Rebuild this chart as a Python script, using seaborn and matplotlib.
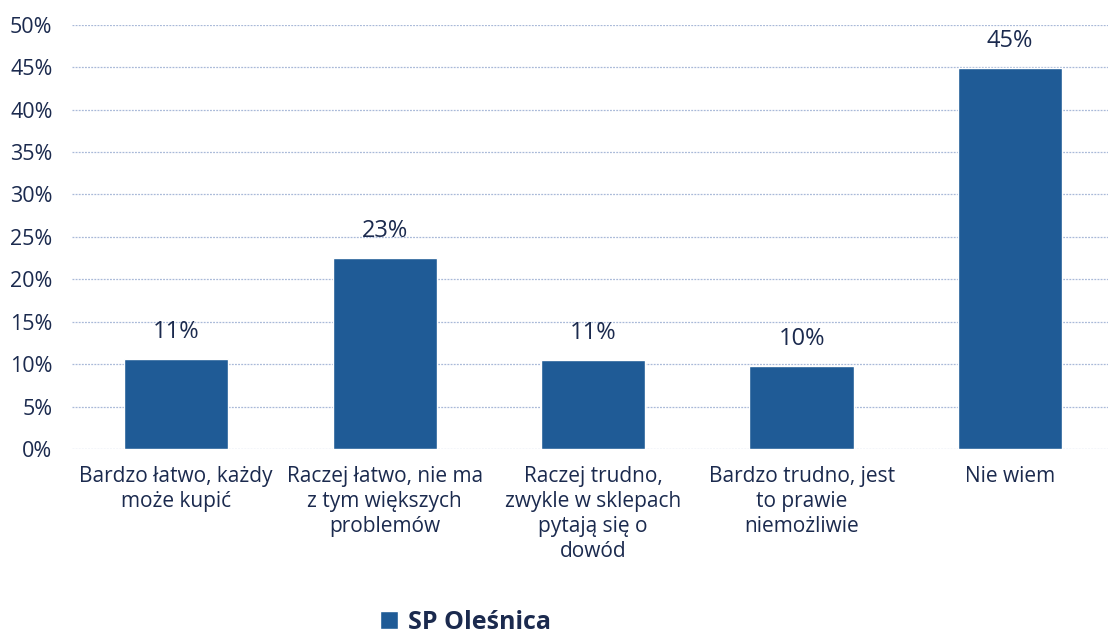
import matplotlib
matplotlib.use("Agg")
import matplotlib.pyplot as plt
import seaborn as sns
import pandas as pd
from matplotlib.patches import Patch

categories = [
    "Bardzo łatwo, każdy\nmoże kupić",
    "Raczej łatwo, nie ma\nz tym większych\nproblemów",
    "Raczej trudno,\nzwykle w sklepach\npytają się o\ndowód",
    "Bardzo trudno, jest\nto prawie\nniemożliwie",
    "Nie wiem",
]
values = [10.6, 22.5, 10.5, 9.8, 44.9]
labels = ["11%", "23%", "11%", "10%", "45%"]
yticks = [0, 5, 10, 15, 20, 25, 30, 35, 40, 45, 50]
series_name = "SP Oleśnica"

sns.set_style("white")
plt.rcParams['font.family'] = ['Open Sans', 'DejaVu Sans']

text_color = "#1b2a4e"
bar_color = "#1f5b96"

fig = plt.figure(figsize=(11.08, 6.36), dpi=100)
ax = fig.add_axes([0.065, 0.294, 0.935, 0.667])

df = pd.DataFrame({"cat": categories, "val": values})
sns.barplot(data=df, x="cat", y="val", color=bar_color, width=0.5, ax=ax,
            saturation=1, zorder=3)

ax.set_ylim(0, 50)
ax.set_xlim(-0.5, 4.47)
ax.set_yticks(yticks)
ax.set_yticklabels([f"{t}%" for t in yticks], fontsize=15.5, color=text_color)
ax.tick_params(axis='x', labelsize=15, colors=text_color, length=0, pad=12)
ax.tick_params(axis='y', length=0, pad=14)
for t in ax.get_xticklabels():
    t.set_linespacing(1.25)
ax.yaxis.grid(True, color="#a9b9d8", linestyle=(0, (1.5, 1)), linewidth=0.9, zorder=0)
ax.set_axisbelow(True)
for s in ax.spines.values():
    s.set_visible(False)
ax.set_xlabel("")
ax.set_ylabel("")

for i, (v, lab) in enumerate(zip(values, labels)):
    ax.annotate(lab, (i, v), xytext=(0, 11), textcoords="offset points",
                ha="center", va="bottom", fontsize=17, color=text_color)

fig.legend(handles=[Patch(facecolor=bar_color, label=series_name)],
           loc="center", bbox_to_anchor=(0.42, 0.022), frameon=False,
           prop={"weight": "bold", "size": 18}, labelcolor=text_color,
           handlelength=0.7, handleheight=0.7, handletextpad=0.4)

fig.savefig("out.png", dpi=100)
